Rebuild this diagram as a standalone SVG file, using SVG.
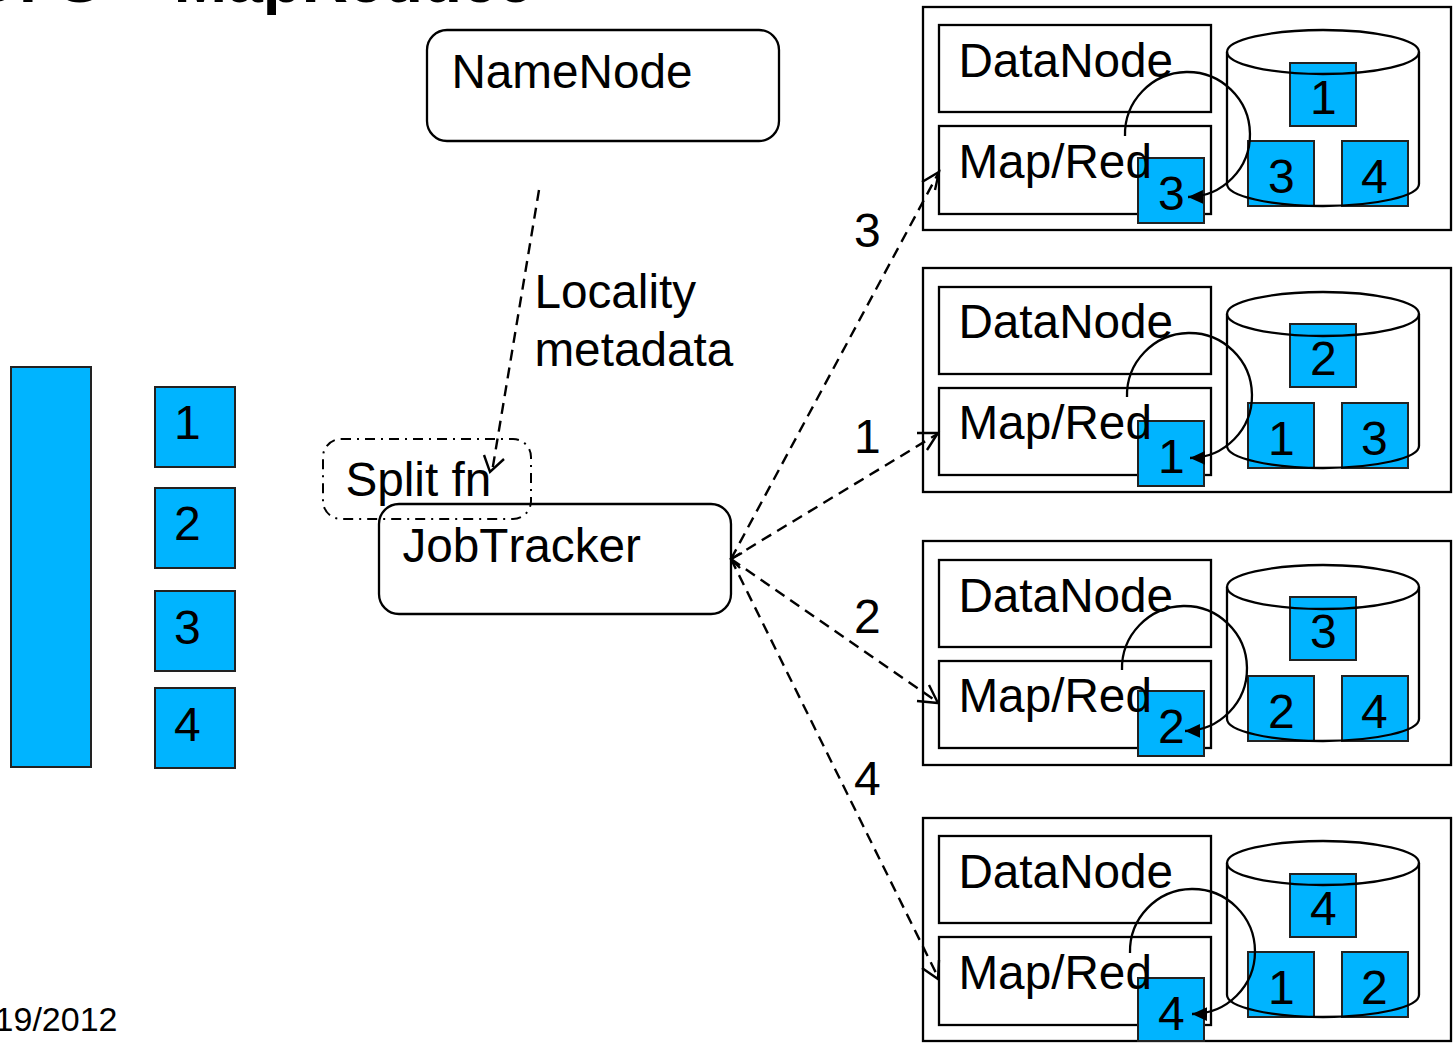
<svg xmlns="http://www.w3.org/2000/svg" xmlns:xlink="http://www.w3.org/1999/xlink" width="1454" height="1045" viewBox="0 0 1454 1045">
<style>
text{font-family:"Liberation Sans",Arial,sans-serif;fill:#000}
.t{font-size:47.7px;font-kerning:none;transform:translateX(-.6px)}
.n{font-size:48px}
.b{fill:#00b4ff;stroke:#222;stroke-width:2}
.o{fill:none;stroke:#000;stroke-width:2.3}
.w{fill:#fff;stroke:#000;stroke-width:2.3}
.d{fill:none;stroke:#000;stroke-width:2.4;stroke-dasharray:11 7}
.h{fill:none;stroke:#000;stroke-width:2.4}
</style>
<defs>
<marker id="fa" markerUnits="userSpaceOnUse" markerWidth="20" markerHeight="18" refX="15" refY="9" orient="auto"><path d="M0 2 L15 9 L0 16 Z" fill="#000"/></marker>
<g id="cyl"><path class="o" d="M1227 52 V184 C1227 196 1270 206 1323 206 C1376 206 1419 196 1419 184 V52"/><ellipse class="o" cx="1323" cy="52" rx="96" ry="22"/></g>
</defs>
<text id="title" x="533" y="2" text-anchor="end" font-size="64" font-weight="bold">DFS + MapReduce</text>
<text id="date" x="117.5" y="1031" text-anchor="end" font-size="34">19/2012</text>
<g id="file">
<rect class="b" x="11" y="367" width="80" height="400"/>
</g>
<g id="split-1"><rect class="b" x="155" y="387" width="80" height="80"/><text class="n" x="174" y="439">1</text></g>
<g id="split-2"><rect class="b" x="155" y="488" width="80" height="80"/><text class="n" x="174" y="540">2</text></g>
<g id="split-3"><rect class="b" x="155" y="591" width="80" height="80"/><text class="n" x="174" y="644">3</text></g>
<g id="split-4"><rect class="b" x="155" y="688" width="80" height="80"/><text class="n" x="174" y="741">4</text></g>
<g id="namenode"><rect class="w" x="427" y="30" width="352" height="111" rx="20"/><text class="t" x="452" y="88">NameNode</text></g>
<g id="splitfn"><rect x="323" y="439" width="208" height="80" rx="18" fill="none" stroke="#000" stroke-width="2" stroke-dasharray="10 6 2 6"/><text class="t" x="346" y="496">Split fn</text></g>
<g id="jobtracker"><rect x="379" y="504" width="352" height="110" rx="20" fill="none" stroke="#000" stroke-width="2.3"/><text class="t" x="403" y="562">JobTracker</text></g>
<g id="locality"><text class="t" x="535" y="308">Locality</text><text class="t" x="535" y="366">metadata</text></g>
<g id="l3"><text class="n" x="854" y="247">3</text></g>
<g id="l1"><text class="n" x="854" y="453">1</text></g>
<g id="l2"><text class="n" x="854" y="633">2</text></g>
<g id="l4"><text class="n" x="854" y="795">4</text></g>

<g id="node-a">
<rect class="o" x="923" y="7" width="528" height="223"/>
<rect class="o" x="939" y="25" width="272" height="87"/>
<rect class="o" x="939" y="126" width="272" height="88"/>
<rect class="b" x="1290" y="63" width="66" height="63"/><text class="n" x="1310" y="114">1</text>
<rect class="b" x="1248" y="141" width="66" height="65"/><text class="n" x="1268" y="193">3</text>
<rect class="b" x="1342" y="141" width="66" height="65"/><text class="n" x="1361" y="193">4</text>
<use xlink:href="#cyl" href="#cyl"/>
<rect class="b" x="1138" y="158" width="66" height="65"/><text class="n" x="1158" y="210">3</text>
<text class="t" x="959" y="77">DataNode</text><text class="t" x="959" y="178">Map/Red</text>
<path class="o" marker-end="url(#fa)" d="M1125 136 A62.5 62.5 0 1 1 1188 197"/>
</g>
<g id="node-b">
<rect class="o" x="923" y="268" width="528" height="224"/>
<rect class="o" x="939" y="287" width="272" height="87"/>
<rect class="o" x="939" y="388" width="272" height="87"/>
<rect class="b" x="1290" y="324" width="66" height="63"/><text class="n" x="1310" y="375">2</text>
<rect class="b" x="1248" y="403" width="66" height="65"/><text class="n" x="1268" y="455">1</text>
<rect class="b" x="1342" y="403" width="66" height="65"/><text class="n" x="1361" y="455">3</text>
<use xlink:href="#cyl" href="#cyl" y="262"/>
<rect class="b" x="1138" y="421" width="66" height="65"/><text class="n" x="1158" y="473">1</text>
<text class="t" x="959" y="338">DataNode</text><text class="t" x="959" y="439">Map/Red</text>
<path class="o" marker-end="url(#fa)" d="M1127 397 A62.5 62.5 0 1 1 1190 458"/>
</g>
<g id="node-c">
<rect class="o" x="923" y="541" width="528" height="224"/>
<rect class="o" x="939" y="560" width="272" height="87"/>
<rect class="o" x="939" y="661" width="272" height="87"/>
<rect class="b" x="1290" y="597" width="66" height="63"/><text class="n" x="1310" y="648">3</text>
<rect class="b" x="1248" y="676" width="66" height="65"/><text class="n" x="1268" y="728">2</text>
<rect class="b" x="1342" y="676" width="66" height="65"/><text class="n" x="1361" y="728">4</text>
<use xlink:href="#cyl" href="#cyl" y="535"/>
<rect class="b" x="1138" y="691" width="66" height="65"/><text class="n" x="1158" y="743">2</text>
<text class="t" x="959" y="612">DataNode</text><text class="t" x="959" y="712">Map/Red</text>
<path class="o" marker-end="url(#fa)" d="M1122 670 A62.5 62.5 0 1 1 1185 731"/>
</g>
<g id="node-d">
<rect class="o" x="923" y="818" width="528" height="223"/>
<rect class="o" x="939" y="836" width="272" height="87"/>
<rect class="o" x="939" y="937" width="272" height="88"/>
<rect class="b" x="1290" y="874" width="66" height="63"/><text class="n" x="1310" y="925">4</text>
<rect class="b" x="1248" y="952" width="66" height="65"/><text class="n" x="1268" y="1004">1</text>
<rect class="b" x="1342" y="952" width="66" height="65"/><text class="n" x="1361" y="1004">2</text>
<use xlink:href="#cyl" href="#cyl" y="811"/>
<rect class="b" x="1138" y="978" width="66" height="63"/><text class="n" x="1158" y="1030">4</text>
<text class="t" x="959" y="888">DataNode</text><text class="t" x="959" y="989">Map/Red</text>
<path class="o" marker-end="url(#fa)" d="M1130 953 A62.5 62.5 0 1 1 1192 1014"/>
</g>
<g id="connectors">
<path class="d" d="M539 190 L492 472"/>
<path class="h" d="M484 455 L490 472 L504 459"/>
<path class="d" d="M731 559 L939 172"/>
<path class="h" d="M922 182 L939 172 L935 190"/>
<path class="d" d="M731 559 L939 433"/>
<path class="h" d="M917 433 L938 433 L927 450"/>
<path class="d" d="M731 559 L939 703"/>
<path class="h" d="M917 701 L938 703 L929 685"/>
<path class="d" d="M731 559 L939 979"/>
<path class="h" d="M922 968 L938 979 L939 960"/>
<path class="h" d="M742 553 L731 559 L740 568"/>
</g>
</svg>
